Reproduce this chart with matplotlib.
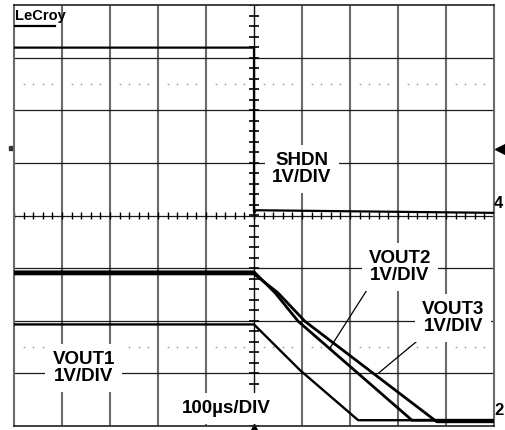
import numpy as np
import matplotlib.pyplot as plt

plt.rcParams['font.family'] = ['Liberation Sans', 'DejaVu Sans']

# traces in screen divisions (x: 0..10 div, y: -4..4 div)
shdn_t = [0, 5.0, 5.0, 5.04, 10]
shdn_v = [3.19, 3.19, 0.05, 0.1, 0.05]

vout1_t = [0, 5.0, 5.96, 7.17, 10]
vout1_v = [-2.07, -2.07, -2.94, -3.89, -3.89]

vout2_t = [0, 5.0, 5.44, 5.92, 8.29, 10]
vout2_v = [-1.07, -1.07, -1.47, -2.01, -3.89, -3.89]

vout3_t = [0, 5.0, 5.5, 6.06, 8.81, 10]
vout3_v = [-1.11, -1.11, -1.47, -2.01, -3.92, -3.92]

labels = ['SHDN\n1V/DIV', 'VOUT2\n1V/DIV', 'VOUT3\n1V/DIV', 'VOUT1\n1V/DIV', '100µs/DIV']
label_x = [6.0, 8.04, 9.15, 1.45, 4.43]
label_y = [0.88, -0.98, -1.95, -2.9, -3.66]

fig = plt.figure(figsize=(5.05, 4.30), dpi=100)
ax = fig.add_axes([14 / 505, 4 / 430, 480 / 505, 421 / 430])
ax.set_xlim(0, 10)
ax.set_ylim(-4, 4)
ax.set_xticks([])
ax.set_yticks([])
for side in ['left', 'right']:
    ax.spines[side].set_color('#6a6a6a')
    ax.spines[side].set_linewidth(1.5)
for side in ['top', 'bottom']:
    ax.spines[side].set_color('#222222')
    ax.spines[side].set_linewidth(1.2)

# graticule
for gx in range(1, 10):
    if gx == 5:
        continue
    ax.axvline(gx, color='#6a6a6a', lw=1.5, zorder=1)
for gy in range(-3, 4):
    ax.axhline(gy, color='#1a1a1a', lw=0.9, zorder=1)
ax.axvline(5, color='#111111', lw=1.0, zorder=1)

# centre axis ticks
minor = np.arange(-4, 4.01, 0.2)
ax.hlines(minor, 5 - 0.1, 5 + 0.1, color='black', lw=1.2, zorder=2)
minor_x = np.arange(0, 10.01, 0.2)
ax.vlines(minor_x, -0.07, 0.07, color='black', lw=1.0, zorder=2)

# dotted rows
dots_x = [x for x in minor_x if abs(x - round(x)) > 0.05]
for dy in [2.5, -2.5]:
    ax.plot(dots_x, [dy] * len(dots_x), ls='none', marker='s', ms=1.1,
            color='#999999', mec='none', zorder=1)

# traces
ax.plot(shdn_t, shdn_v, color='black', lw=1.6, zorder=3)
ax.plot(vout1_t, vout1_v, color='black', lw=1.7, zorder=3)
ax.plot(vout2_t, vout2_v, color='black', lw=2.0, zorder=3)
ax.plot(vout3_t, vout3_v, color='black', lw=2.0, zorder=3)

# pointers
ax.plot([7.35, 6.58], [-1.42, -2.52], color='black', lw=0.9, zorder=3)
ax.plot([8.5, 7.6], [-2.31, -2.99], color='black', lw=0.9, zorder=3)

for txt, lx, ly in zip(labels, label_x, label_y):
    ax.text(lx, ly, txt, ha='center', va='center', multialignment='center',
            fontsize=13.5, fontweight='bold', linespacing=1.0, zorder=5,
            bbox=dict(facecolor='white', edgecolor='none', pad=5))

# LeCroy logo
ax.text(0.03, 3.93, 'LeCroy', ha='left', va='top', fontsize=10.5,
        fontweight='bold', zorder=5)
ax.plot([0.02, 0.86], [3.6, 3.6], color='black', lw=1.6, zorder=5)

# side markers
ax.plot([10.12], [1.26], marker='<', ms=7, color='black', clip_on=False)
ax.text(10.1, 0.23, '4', ha='center', va='center', fontsize=12,
        fontweight='bold', clip_on=False)
ax.text(10.1, -3.7, '2', ha='center', va='center', fontsize=12,
        fontweight='bold', clip_on=False)
ax.plot([-0.06], [1.28], marker='s', ms=2.5, color='#333333', clip_on=False)
ax.plot([5.0], [-4.05], marker='^', ms=7, color='black', clip_on=False)

fig.savefig('out.png', dpi=100)
